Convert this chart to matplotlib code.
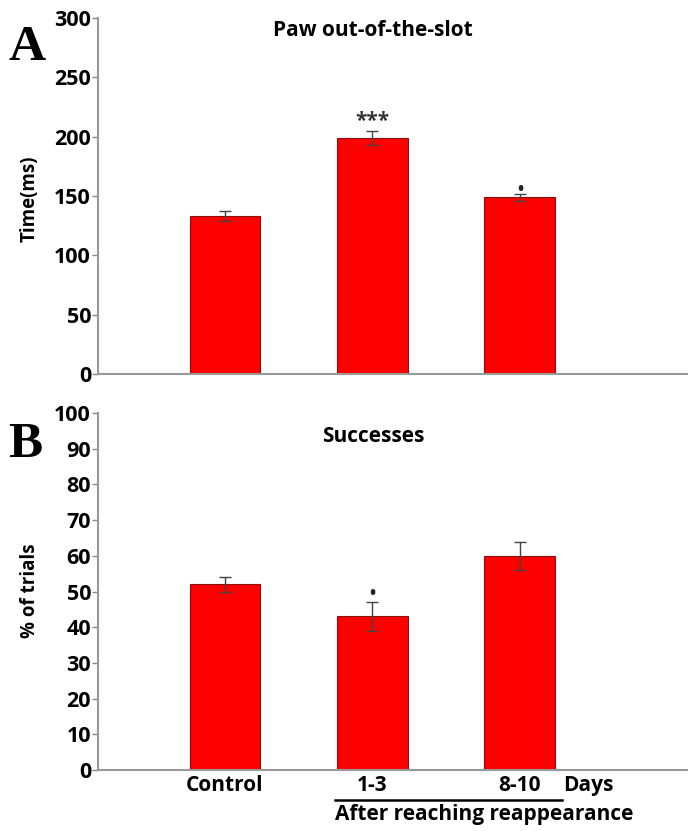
import matplotlib
matplotlib.use("Agg")
from matplotlib import pyplot as plt

groups = ["Control", "1-3", "8-10"]

paw_time = [133, 199, 149]
paw_err = [4, 6, 3]
paw_marks = ["", "***", "•"]

successes = [52, 43, 60]
successes_err = [2, 4, 4]
successes_marks = ["", "•", ""]

plt.rcParams["font.family"] = ["Open Sans", "DejaVu Sans"]
plt.rcParams["font.weight"] = "bold"

fig = plt.figure(figsize=(6.88, 8.31), dpi=100)
ax_a = fig.add_axes([0.1424, 0.5499, 0.8576, 0.4284])
ax_b = fig.add_axes([0.1424, 0.0734, 0.8576, 0.4296])

x = range(len(groups))


def draw_panel(ax, values, errs, marks, ymax, step, title, title_y, mark_pad):
    ax.bar(x, values, width=0.48, color="#ff0000", edgecolor="#8a1010", linewidth=0.8,
           zorder=2)
    ax.errorbar(x, values, yerr=errs, fmt="none", ecolor="#444444", elinewidth=1,
                capsize=4, capthick=1, zorder=3)
    for xi, v, e, m in zip(x, values, errs, marks):
        if m == "***":
            ax.text(xi, v + e + mark_pad[0], m, ha="center", va="baseline",
                    fontsize=15, color="#333333")
        elif m:
            ax.text(xi, v + e + mark_pad[1], m, ha="center", va="baseline",
                    fontsize=12, color="#222222")
    ax.set_xlim(-0.861, 3.14)
    ax.set_ylim(0, ymax)
    ax.set_yticks(range(0, ymax + 1, step))
    ax.tick_params(axis="y", direction="out", length=4, width=1, color="#888888",
                   labelsize=15.5, pad=1)
    ax.set_xticks([])
    for side in ["top", "right"]:
        ax.spines[side].set_visible(False)
    for side in ["left", "bottom"]:
        ax.spines[side].set_color("#999999")
        ax.spines[side].set_linewidth(1.5)
    for lbl in ax.get_yticklabels():
        lbl.set_fontweight("bold")
    ax.text(0.466, title_y, title, transform=ax.transAxes, ha="center", va="baseline",
            fontsize=15, fontweight="bold")


draw_panel(ax_a, paw_time, paw_err, paw_marks, 300, 50, "Paw out-of-the-slot",
           0.949, (3, -1))
draw_panel(ax_b, successes, successes_err, successes_marks, 100, 10, "Successes",
           0.919, (1, 1))

# y axis labels
fig.text(30 / 688, 0.7605, "Time(ms)", rotation=90, ha="center", va="center",
         fontsize=13.5, fontweight="bold")
fig.text(30 / 688, 0.289, "% of trials", rotation=90, ha="center", va="center",
         fontsize=13.5, fontweight="bold")

# panel letters
fig.text(0.012, 0.9278, "A", family="Liberation Serif", fontsize=37, fontweight="bold",
         va="baseline")
fig.text(0.012, 0.450, "B", family="Liberation Serif", fontsize=37, fontweight="bold",
         va="baseline")

# group labels under the lower panel
for xi, g in zip(x, groups):
    ax_b.text(xi, -5.9, g, ha="center", va="baseline", fontsize=15, fontweight="bold",
              clip_on=False)
ax_b.text(2.29, -5.9, "Days", ha="left", va="baseline", fontsize=15, fontweight="bold",
          clip_on=False)
ax_b.plot([0.746, 2.285], [-8.5, -8.5], color="black", linewidth=1.8, clip_on=False)
ax_b.text(0.746, -14.0, "After reaching reappearance", ha="left", va="baseline",
          fontsize=15, fontweight="bold", clip_on=False)

fig.savefig("out.png", dpi=100)
